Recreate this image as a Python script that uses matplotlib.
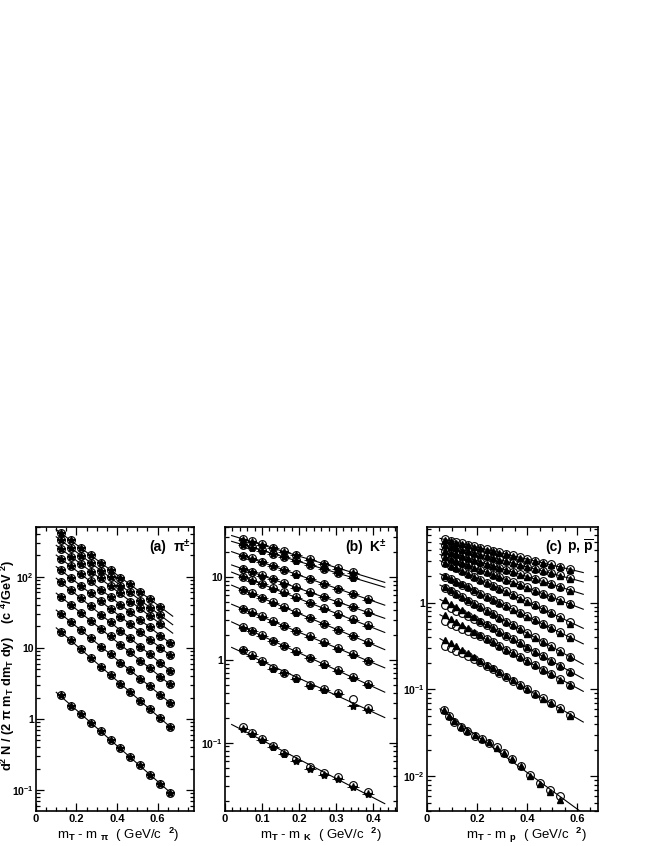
import numpy as np
import matplotlib
matplotlib.use('Agg')
import matplotlib.pyplot as plt
from matplotlib.ticker import LogLocator, NullFormatter, FuncFormatter, MultipleLocator

plt.rcParams['font.family'] = ['Liberation Sans', 'DejaVu Sans']
plt.rcParams['font.weight'] = 'bold'
plt.rcParams['mathtext.fontset'] = 'custom'
plt.rcParams['mathtext.rm'] = 'Liberation Sans:bold'
plt.rcParams['mathtext.it'] = 'Liberation Sans:bold'
plt.rcParams['mathtext.bf'] = 'Liberation Sans:bold'
plt.rcParams['mathtext.default'] = 'rm'

# ---- (a) pions: m_T - m_pi (GeV/c^2) ----
x_pi = [0.123, 0.172, 0.221, 0.270, 0.319, 0.368, 0.417, 0.466, 0.515, 0.564, 0.613, 0.662]
pi_1 = [410, 325, 252, 201, 157, 125, 97.0, 77.8, 60.2, 48.3, 37.6]
pi_2 = [325, 257, 198, 158, 122, 97.5, 75.2, 60.1, 46.3, 36.9, 28.8]
pi_3 = [247, 192, 153, 118, 94.5, 73.0, 58.2, 44.8, 35.9, 27.6, 21.9]
pi_4 = [179, 141, 108, 85.8, 66.0, 52.3, 40.1, 31.9, 24.4, 19.4, 14.8, 11.8]
pi_5 = [123, 96.5, 74.0, 58.8, 45.0, 35.7, 27.2, 21.6, 16.5, 13.1, 10.0, 7.9]
pi_6 = [84.0, 65.3, 49.5, 38.8, 29.3, 23.0, 17.4, 13.7, 10.3, 8.10, 6.15, 4.77]
pi_7 = [52.0, 40.6, 30.7, 24.2, 18.4, 14.5, 11.0, 8.65, 6.58, 5.17, 3.93, 3.06]
pi_8 = [30.0, 23.3, 17.6, 13.8, 10.4, 8.20, 6.19, 4.86, 3.68, 2.87, 2.18, 1.69]
pi_9 = [16.7, 12.8, 9.50, 7.31, 5.44, 4.19, 3.11, 2.40, 1.78, 1.37, 1.02, 0.780]
pi_10 = [2.17, 1.54, 1.16, 0.867, 0.670, 0.501, 0.387, 0.296, 0.223, 0.164, 0.122, 0.0925]
pion_rows = [pi_1, pi_2, pi_3, pi_4, pi_5, pi_6, pi_7, pi_8, pi_9, pi_10]

# ---- (b) kaons: m_T - m_K (GeV/c^2) ----
x_k = [0.050, 0.072, 0.099, 0.130, 0.160, 0.193, 0.230, 0.268, 0.306, 0.345, 0.386]
kp_1 = [28.7, 26.8, 24.6, 22.3, 20.4, 18.4, 16.3, 14.5, 12.9, 11.4]
kp_2 = [24.5, 22.9, 21.1, 19.1, 17.5, 15.8, 14.1, 12.6, 11.2, 9.9]
kp_3 = [18.1, 16.7, 15.2, 13.6, 12.2, 10.8, 9.5, 8.3, 7.2, 6.3, 5.43]
kp_4 = [12.5, 11.6, 10.5, 9.4, 8.4, 7.5, 6.56, 5.73, 5.0, 4.36, 3.76]
kp_5 = [10.1, 9.2, 8.3, 7.3, 6.5, 5.66, 4.88, 4.19, 3.59, 3.07, 2.60]
kp_6 = [6.97, 6.34, 5.64, 4.93, 4.33, 3.75, 3.20, 2.72, 2.30, 1.95, 1.63]
kp_7 = [4.11, 3.74, 3.33, 2.92, 2.57, 2.23, 1.91, 1.62, 1.38, 1.17, 0.98]
kp_8 = [2.48, 2.23, 1.97, 1.70, 1.48, 1.26, 1.06, 0.889, 0.743, 0.619, 0.51]
kp_9 = [1.33, 1.14, 0.964, 0.787, 0.697, 0.597, 0.495, 0.440, 0.394, 0.333, 0.259]
kp_10 = [0.153, 0.132, 0.110, 0.091, 0.076, 0.063, 0.0514, 0.0436, 0.0383, 0.0309, 0.0257]
km_1 = [28.2, 26.5, 24.0, 22.1, 20.0, 18.2, 16.0, 14.3, 12.6, 11.1]
km_2 = [24.0, 22.5, 20.8, 18.9, 17.2, 15.5, 13.9, 12.3, 11.0, 9.6]
km_3 = [17.8, 16.5, 15.0, 13.4, 12.0, 10.6, 9.3, 8.2, 7.1, 6.2, 5.3]
km_4 = [12.3, 11.4, 10.3, 9.3, 8.3, 7.4, 6.45, 5.65, 4.9, 4.3, 3.7]
km_5 = [9.9, 9.0, 8.2, 7.2, 6.4, 5.6, 4.8, 4.1, 3.5, 3.0, 2.55]
km_6 = [6.9, 6.2, 5.55, 4.85, 4.25, 3.7, 3.15, 2.68, 2.27, 1.92, 1.6]
km_7 = [4.05, 3.68, 3.28, 2.88, 2.53, 2.2, 1.88, 1.6, 1.36, 1.15, 0.96]
km_8 = [2.45, 2.2, 1.94, 1.68, 1.46, 1.24, 1.04, 0.875, 0.73, 0.61, 0.5]
km_9 = [1.31, 1.12, 0.95, 0.775, 0.69, 0.59, 0.485, 0.432, 0.385, 0.277, 0.25]
km_10 = [0.148, 0.128, 0.107, 0.088, 0.073, 0.060, 0.0485, 0.0412, 0.036, 0.0288, 0.0242]
kplus_rows = [kp_1, kp_2, kp_3, kp_4, kp_5, kp_6, kp_7, kp_8, kp_9, kp_10]
kminus_rows = [km_1, km_2, km_3, km_4, km_5, km_6, km_7, km_8, km_9, km_10]

# ---- (c) protons: m_T - m_p (GeV/c^2) ----
x_p = [0.072, 0.095, 0.116, 0.139, 0.163, 0.188, 0.212, 0.239, 0.263, 0.289,
       0.316, 0.343, 0.372, 0.401, 0.432, 0.463, 0.495, 0.532, 0.572]
x_pb = [0.068, 0.090, 0.109, 0.135, 0.161, 0.192, 0.219, 0.248, 0.279, 0.309,
        0.341, 0.376, 0.412, 0.452, 0.492, 0.532]
p_1 = [5.36, 5.16, 5.00, 4.82, 4.63, 4.46, 4.29, 4.11, 3.95, 3.79, 3.64, 3.48, 3.33, 3.18, 3.03, 2.88, 2.74, 2.58, 2.42]
p_2 = [4.60, 4.42, 4.26, 4.09, 3.92, 3.75, 3.60, 3.43, 3.29, 3.14, 2.99, 2.85, 2.71, 2.58, 2.44, 2.31, 2.18, 2.05, 1.91]
p_3 = [3.96, 3.78, 3.61, 3.44, 3.28, 3.11, 2.96, 2.80, 2.66, 2.52, 2.38, 2.25, 2.12, 2.00, 1.87, 1.76, 1.64, 1.52, 1.40]
p_4 = [3.40, 3.21, 3.04, 2.87, 2.70, 2.54, 2.39, 2.23, 2.10, 1.97, 1.84, 1.72, 1.60, 1.49, 1.37, 1.27, 1.17, 1.07, 0.966]
p_5 = [2.84, 2.64, 2.48, 2.31, 2.14, 1.98, 1.84, 1.69, 1.57, 1.45, 1.34, 1.23, 1.12, 1.03, 0.933, 0.847, 0.767, 0.685, 0.605]
p_6 = [1.99, 1.85, 1.73, 1.61, 1.49, 1.37, 1.27, 1.16, 1.08, 0.993, 0.910, 0.834, 0.760, 0.692, 0.627, 0.568, 0.512, 0.455, 0.400]
p_7 = [1.47, 1.35, 1.25, 1.15, 1.05, 0.962, 0.883, 0.800, 0.733, 0.667, 0.605, 0.548, 0.494, 0.445, 0.397, 0.356, 0.316, 0.277, 0.239]
p_8 = [0.93, 0.86, 0.80, 0.76, 0.70, 0.655, 0.605, 0.552, 0.508, 0.46, 0.417, 0.376, 0.338, 0.302, 0.269, 0.240, 0.212, 0.188, 0.158]
p_9 = [0.61, 0.57, 0.54, 0.50, 0.47, 0.44, 0.41, 0.378, 0.347, 0.317, 0.287, 0.26, 0.234, 0.211, 0.189, 0.168, 0.15, 0.131, 0.113]
p_10 = [0.32, 0.30, 0.28, 0.26, 0.24, 0.222, 0.205, 0.187, 0.172, 0.155, 0.14, 0.126, 0.113, 0.1, 0.089, 0.079, 0.0695, 0.0605, 0.0512]
p_11 = [0.058, 0.049, 0.0425, 0.037, 0.0335, 0.0295, 0.027, 0.0245, 0.0215, 0.0188, 0.016, 0.0132, 0.0104, 0.0083, 0.0069, 0.0060]
pb_1 = [5.2, 5.05, 4.9, 4.75, 4.55, 4.40, 4.22, 4.05, 3.90, 3.72, 3.58, 3.42, 3.27, 3.12, 2.98, 2.84, 2.70, 2.55, 2.38]
pb_2 = [4.55, 4.40, 4.22, 4.05, 3.90, 3.72, 3.56, 3.40, 3.26, 3.12, 2.97, 2.82, 2.69, 2.55, 2.42, 2.29, 2.16, 2.02, 1.88]
pb_3 = [3.92, 3.75, 3.60, 3.41, 3.25, 3.10, 2.93, 2.78, 2.64, 2.50, 2.36, 2.23, 2.10, 1.98, 1.86, 1.74, 1.62, 1.50, 1.37]
pb_4 = [3.38, 3.20, 3.01, 2.85, 2.68, 2.52, 2.37, 2.22, 2.08, 1.95, 1.82, 1.70, 1.58, 1.47, 1.36, 1.25, 1.15, 1.05, 0.95]
pb_5 = [2.86, 2.66, 2.47, 2.30, 2.13, 1.97, 1.83, 1.68, 1.56, 1.44, 1.33, 1.22, 1.11, 1.02, 0.925, 0.84, 0.76, 0.67, 0.56]
pb_6 = [2.02, 1.88, 1.74, 1.62, 1.50, 1.38, 1.27, 1.17, 1.08, 0.99, 0.905, 0.83, 0.755, 0.69, 0.623, 0.565, 0.508, 0.45, 0.395]
pb_7 = [1.50, 1.38, 1.26, 1.16, 1.06, 0.965, 0.885, 0.805, 0.735, 0.665, 0.60, 0.545, 0.49, 0.44, 0.395, 0.352, 0.312, 0.272, 0.235]
pb_8 = [1.06, 0.97, 0.89, 0.82, 0.745, 0.68, 0.62, 0.56, 0.512, 0.463, 0.418, 0.378, 0.34, 0.304, 0.27, 0.241, 0.213, 0.184, 0.16]
pb_9 = [0.71, 0.655, 0.60, 0.555, 0.505, 0.462, 0.423, 0.383, 0.35, 0.318, 0.288, 0.261, 0.235, 0.21, 0.19, 0.168, 0.149, 0.13, 0.112]
pb_10 = [0.375, 0.345, 0.315, 0.287, 0.26, 0.236, 0.214, 0.193, 0.175, 0.157, 0.141, 0.127, 0.112, 0.101, 0.089, 0.078, 0.069, 0.059, 0.05]
pb_11 = [0.058, 0.050, 0.043, 0.037, 0.0332, 0.0297, 0.0268, 0.0247, 0.0212, 0.0186, 0.0158, 0.013, 0.0102, 0.0081, 0.0066, 0.0054]
p_rows = [p_1, p_2, p_3, p_4, p_5, p_6, p_7, p_8, p_9, p_10, p_11]
pbar_rows = [pb_1, pb_2, pb_3, pb_4, pb_5, pb_6, pb_7, pb_8, pb_9, pb_10, pb_11]


def log_label(v, pos):
    e = int(round(np.log10(v)))
    if e == 0:
        return '1'
    if e == 1:
        return '10'
    return r'$10^{%d}$' % e


def style_axes(ax, xlim, ylim, xmaj, xmin):
    ax.set_yscale('log')
    ax.set_xlim(*xlim)
    ax.set_ylim(*ylim)
    ax.xaxis.set_major_locator(MultipleLocator(xmaj))
    ax.xaxis.set_minor_locator(MultipleLocator(xmin))
    ax.xaxis.set_major_formatter(FuncFormatter(lambda v, p: '0' if abs(v) < 1e-9 else '%g' % v))
    ax.yaxis.set_major_locator(LogLocator(base=10))
    ax.yaxis.set_minor_locator(LogLocator(base=10, subs=np.arange(2, 10)))
    ax.yaxis.set_major_formatter(FuncFormatter(log_label))
    ax.yaxis.set_minor_formatter(NullFormatter())
    ax.tick_params(which='both', direction='in', top=True, right=True, width=0.9,
                   labelsize=8, pad=2)
    ax.tick_params(axis='y', labelsize=7.5, pad=1.5)
    ax.tick_params(which='major', length=6)
    ax.tick_params(which='minor', length=3)
    for s in ax.spines.values():
        s.set_linewidth(1.2)


def draw_panel(ax, xs, pos_rows, neg_rows, neg_marker, neg_size, fit_lo, fit_hi, xerr):
    for x, yp, yn in zip(xs, pos_rows, neg_rows):
        x = np.asarray(x[:len(yp)])
        yp = np.asarray(yp)
        yn = np.asarray(yn)
        k, b = np.polyfit(np.concatenate([x, x]), np.log(np.concatenate([yp, yn])), 1)
        xl = np.linspace(fit_lo, fit_hi, 60)
        ax.plot(xl, np.exp(b + k * xl), color='black', lw=0.8, zorder=2)
        ax.errorbar(x, yn, xerr=xerr, yerr=0.05 * yn, fmt='none', ecolor='black',
                    elinewidth=0.6, zorder=3)
        ax.plot(x, yn, ls='none', marker=neg_marker, color='black', ms=neg_size, zorder=4)
        ax.plot(x, yp, ls='none', marker='o', mfc='none', mec='black', ms=5.6, mew=0.8, zorder=5)


fig = plt.figure(figsize=(6.54, 8.46), dpi=100)
ax_a = fig.add_axes([0.0550, 0.0414, 0.2416, 0.3357])
ax_b = fig.add_axes([0.3440, 0.0414, 0.2630, 0.3357])
ax_c = fig.add_axes([0.6529, 0.0414, 0.2615, 0.3357])

draw_panel(ax_a, [x_pi] * len(pion_rows), pion_rows, pion_rows, '*', 6.0, 0.10, 0.675, 0.010)
draw_panel(ax_b, [x_k] * len(kplus_rows), kplus_rows, kminus_rows, '*', 6.0, 0.018, 0.432, 0.016)
draw_panel(ax_c, [x_p] * 10 + [x_pb], p_rows, pbar_rows, '^', 4.5, 0.052, 0.625, 0.006)

style_axes(ax_a, (0, 0.78), (0.051, 500), 0.2, 0.05)
style_axes(ax_b, (0, 0.465), (0.015, 40), 0.1, 0.02)
style_axes(ax_c, (0, 0.684), (0.004, 7.4), 0.2, 0.05)

ax_a.text(0.72, 0.93, '(a)', transform=ax_a.transAxes, fontsize=10, va='center')
ax_a.text(0.87, 0.93, r'$\pi^{\pm}$', transform=ax_a.transAxes, fontsize=10, va='center')
ax_b.text(0.70, 0.93, '(b)', transform=ax_b.transAxes, fontsize=10, va='center')
ax_b.text(0.84, 0.93, r'K$^{\pm}$', transform=ax_b.transAxes, fontsize=10, va='center')
ax_c.text(0.69, 0.93, '(c)', transform=ax_c.transAxes, fontsize=10, va='center')
ax_c.text(0.82, 0.93, r'p, $\overline{p}$', transform=ax_c.transAxes, fontsize=10, va='center')

ax_a.set_xlabel(r'm$_{T}$ - m $_{\pi}$  ( GeV/c  $^{2}$)', fontsize=9.5)
ax_a.xaxis.set_label_coords(0.52, -0.052)
ax_b.set_xlabel(r'm$_{T}$ - m $_{K}$  ( GeV/c  $^{2}$)', fontsize=9.5)
ax_b.xaxis.set_label_coords(0.56, -0.052)
ax_c.set_xlabel(r'm$_{T}$ - m $_{p}$  ( GeV/c  $^{2}$)', fontsize=9.5)
ax_c.xaxis.set_label_coords(0.58, -0.052)

fig.text(0.012, 1 - 665 / 846, r'd$^{2}$ N / (2 $\pi$ m$_{T}$ dm$_{T}$ dy)    (c $^{4}$/GeV $^{2}$)',
         rotation=90, ha='center', va='center', fontsize=9.2)

fig.savefig('out.png', dpi=100)
